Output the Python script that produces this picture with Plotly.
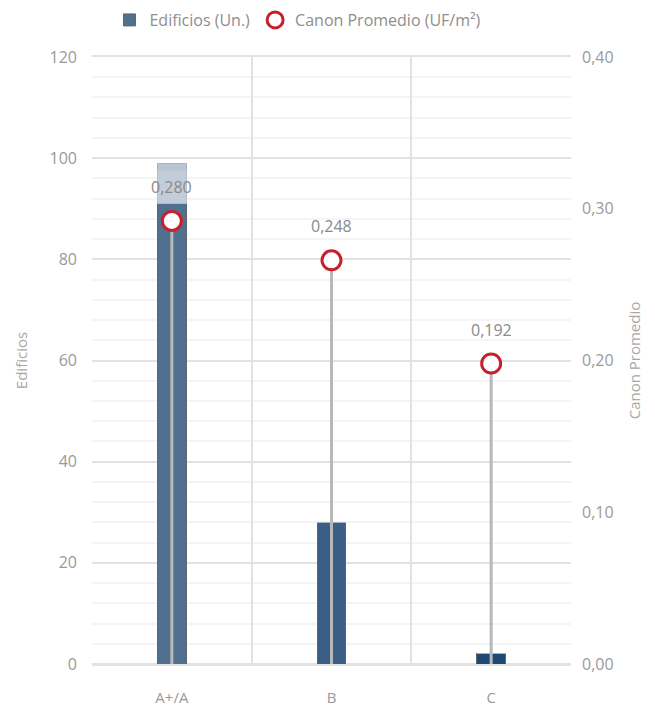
import plotly.graph_objects as go

categories = ["A+/A", "B", "C"]
edificios = [91, 28, 2]
edificios_extra = [8, 0, 0]
canon_labels = [0.280, 0.248, 0.192]
canon_marker = [0.292, 0.266, 0.198]
bar_colors = ["#51708f", "#3b5f84", "#1d4a73"]
extra_color = "#b9c5d3"

grey_txt = "#9a9a9a"
font_family = "Open Sans, Noto Sans, sans-serif"

fig = go.Figure()

fig.add_trace(go.Bar(
    x=categories, y=edificios, name="Edificios (Un.)",
    marker=dict(color=bar_colors, line=dict(color="#5d6772", width=1)),
    width=0.18, yaxis="y", showlegend=True,
))
fig.add_trace(go.Bar(
    x=categories, y=edificios_extra, name="extra",
    marker=dict(color=extra_color, line=dict(color="#a9b4c0", width=1)),
    width=0.18, yaxis="y", showlegend=False, hoverinfo="skip",
))

# stems
sx, sy = [], []
for c, v in zip(categories, canon_marker):
    sx += [c, c, None]
    sy += [v, 0, None]
fig.add_trace(go.Scatter(
    x=sx, y=sy, mode="lines", yaxis="y2", showlegend=False,
    line=dict(color="#b8b8b8", width=3), hoverinfo="skip",
))

fig.add_trace(go.Scatter(
    x=categories, y=canon_marker, mode="markers", yaxis="y2",
    name="Canon Promedio (UF/m²)",
    marker=dict(symbol="circle", size=19, color="white",
                line=dict(color="#c8202a", width=3)),
))

for c, v, lab in zip(categories, canon_marker, canon_labels):
    fig.add_annotation(
        x=c, y=v, yref="y2", text=f"{lab:.3f}".replace(".", ","),
        showarrow=False, yshift=34,
        font=dict(size=16, color="#8a8a8a", family=font_family),
        bgcolor="rgba(255,255,255,0.15)", borderpad=5,
    )

fig.update_layout(
    width=655, height=709,
    margin=dict(l=84, r=92, t=49, b=53, autoexpand=False),
    paper_bgcolor="white", plot_bgcolor="white",
    barmode="stack",
    separators=",.",
    font=dict(family=font_family, color=grey_txt, size=15),
    legend=dict(orientation="h", x=0.43, xanchor="center",
                yref="container", y=1 - 12 / 709, yanchor="middle",
                traceorder="normal",
                font=dict(size=16, color="#8e8e8e"), itemwidth=30),
    xaxis=dict(
        type="category", tickson="boundaries", showgrid=True, automargin=False,
        gridcolor="#e2e2e2", gridwidth=2, ticks="", range=[-0.5, 2.5],
        tickfont=dict(size=15, color=grey_txt), ticklabelstandoff=19,
        showline=True, linecolor="#e2e2e2", linewidth=2, mirror=True,
    ),
    yaxis=dict(
        range=[0, 120], dtick=20, showgrid=True, gridcolor="#e2e2e2", gridwidth=2,
        automargin=False,
        minor=dict(dtick=4, showgrid=True, gridcolor="#f4f4f4", gridwidth=2),
        zeroline=True, zerolinecolor="#e2e2e2", zerolinewidth=2,
        tickfont=dict(size=16, color=grey_txt), ticklabelstandoff=14,
        title=dict(text="Edificios", font=dict(size=15, color="#a8a8a8"), standoff=18),
    ),
    yaxis2=dict(
        range=[0, 0.40], dtick=0.10, tickformat=".2f", overlaying="y", side="right",
        showgrid=False, zeroline=False, automargin=False,
        tickfont=dict(size=16, color=grey_txt), ticklabelstandoff=10,
        title=dict(text="Canon Promedio", font=dict(size=15, color="#a8a8a8"), standoff=16),
    ),
)

fig.write_html("out.html")
